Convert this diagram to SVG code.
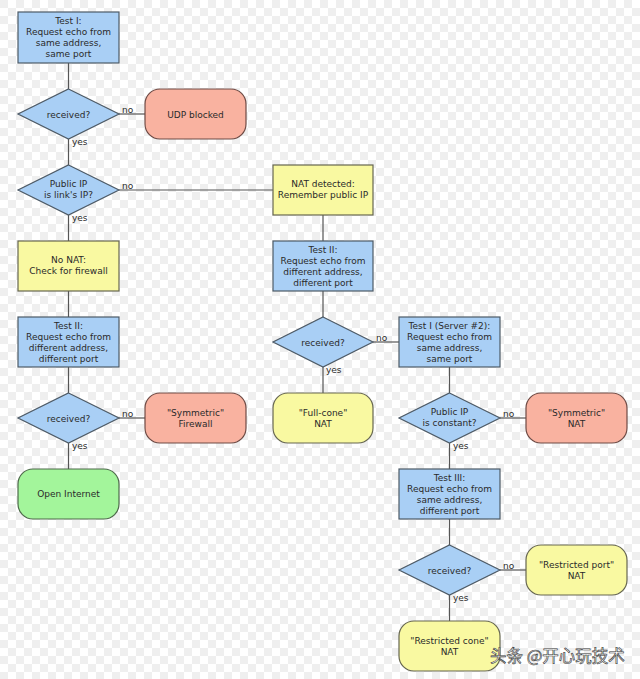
<svg xmlns="http://www.w3.org/2000/svg" width="640" height="679" viewBox="0 0 640 679">
<defs>
<pattern id="chk" width="16" height="16" patternUnits="userSpaceOnUse">
<rect width="16" height="16" fill="#ffffff"/>
<rect width="8" height="8" fill="#efefef"/>
<rect x="8" y="8" width="8" height="8" fill="#efefef"/>
</pattern>
<style>
.b{fill:#a9cff5;stroke:#4d5a66;stroke-width:1.2}
.y{fill:#f9f9a1;stroke:#666650;stroke-width:1.2}
.r{fill:#f9b2a0;stroke:#6e4a44;stroke-width:1.2}
.g{fill:#a3f59b;stroke:#4e6a4b;stroke-width:1.2}
text{font-family:"DejaVu Sans","Noto Sans",sans-serif;font-size:9px;fill:#2a2a2a;text-anchor:middle}
.lbl{text-anchor:start;font-size:9px}
#connectors line{stroke:#555;stroke-width:1.2}
.wm{font-family:"Noto Sans CJK SC",sans-serif;font-size:16.5px;fill:#ffffff;stroke:#333;stroke-width:0.6;text-anchor:start}
</style>
</defs>
<rect width="640" height="679" fill="url(#chk)"/>
<g id="connectors">
<line x1="68.5" y1="63" x2="68.5" y2="89"/>
<line x1="119" y1="114" x2="145" y2="114"/>
<line x1="68.5" y1="139" x2="68.5" y2="165"/>
<line x1="119" y1="190" x2="273" y2="190"/>
<line x1="68.5" y1="215" x2="68.5" y2="241"/>
<line x1="68.5" y1="291" x2="68.5" y2="317"/>
<line x1="68.5" y1="367" x2="68.5" y2="393"/>
<line x1="119" y1="418" x2="145" y2="418"/>
<line x1="68.5" y1="443" x2="68.5" y2="469"/>
<line x1="323" y1="215" x2="323" y2="241"/>
<line x1="323" y1="291" x2="323" y2="317"/>
<line x1="373" y1="342" x2="399" y2="342"/>
<line x1="323" y1="367" x2="323" y2="393"/>
<line x1="449.5" y1="367" x2="449.5" y2="393"/>
<line x1="500" y1="418" x2="526" y2="418"/>
<line x1="449.5" y1="443" x2="449.5" y2="469"/>
<line x1="449.5" y1="519" x2="449.5" y2="545"/>
<line x1="500" y1="570" x2="526" y2="570"/>
<line x1="449.5" y1="595" x2="449.5" y2="621"/>
<text class="lbl" x="122" y="113">no</text>
<text class="lbl" x="72" y="145">yes</text>
<text class="lbl" x="122" y="189">no</text>
<text class="lbl" x="72" y="221">yes</text>
<text class="lbl" x="122" y="417">no</text>
<text class="lbl" x="72" y="449">yes</text>
<text class="lbl" x="376" y="341">no</text>
<text class="lbl" x="326" y="373">yes</text>
<text class="lbl" x="503" y="417">no</text>
<text class="lbl" x="453" y="449">yes</text>
<text class="lbl" x="503" y="569">no</text>
<text class="lbl" x="453" y="601">yes</text>
</g>
<g id="test1">
<rect class="b" x="18" y="12" width="101" height="51"/>
<text x="68.5" y="24">Test I:</text>
<text x="68.5" y="35">Request echo from</text>
<text x="68.5" y="46">same address,</text>
<text x="68.5" y="57">same port</text>
</g>
<g id="recv1">
<polygon class="b" points="68.5,89 119,114 68.5,139 18,114"/>
<text x="68.5" y="117.5">received?</text>
</g>
<g id="udpblocked">
<rect class="r" x="145" y="89" width="101" height="50" rx="15"/>
<text x="195.5" y="117.5">UDP blocked</text>
</g>
<g id="publicip">
<polygon class="b" points="68.5,165 119,190 68.5,215 18,190"/>
<text x="68.5" y="187">Public IP</text>
<text x="68.5" y="198">is link's IP?</text>
</g>
<g id="natdetected">
<rect class="y" x="273" y="165" width="100" height="50"/>
<text x="323" y="187">NAT detected:</text>
<text x="323" y="198">Remember public IP</text>
</g>
<g id="nonat">
<rect class="y" x="18" y="241" width="101" height="50"/>
<text x="68.5" y="263">No NAT:</text>
<text x="68.5" y="274">Check for firewall</text>
</g>
<g id="test2left">
<rect class="b" x="18" y="317" width="101" height="50"/>
<text x="68.5" y="329">Test II:</text>
<text x="68.5" y="340">Request echo from</text>
<text x="68.5" y="351">different address,</text>
<text x="68.5" y="362">different port</text>
</g>
<g id="recv2">
<polygon class="b" points="68.5,393 119,418 68.5,443 18,418"/>
<text x="68.5" y="421.5">received?</text>
</g>
<g id="symfirewall">
<rect class="r" x="145" y="393" width="101" height="50" rx="15"/>
<text x="195.5" y="416">"Symmetric"</text>
<text x="195.5" y="427">Firewall</text>
</g>
<g id="openinternet">
<rect class="g" x="18" y="469" width="101" height="50" rx="15"/>
<text x="68.5" y="497">Open Internet</text>
</g>
<g id="test2right">
<rect class="b" x="273" y="241" width="100" height="50"/>
<text x="323" y="253">Test II:</text>
<text x="323" y="264">Request echo from</text>
<text x="323" y="275">different address,</text>
<text x="323" y="286">different port</text>
</g>
<g id="recv3">
<polygon class="b" points="323,317 373,342 323,367 273,342"/>
<text x="323" y="345.5">received?</text>
</g>
<g id="fullcone">
<rect class="y" x="273" y="393" width="100" height="50" rx="15"/>
<text x="323" y="416">"Full-cone"</text>
<text x="323" y="427">NAT</text>
</g>
<g id="test1server2">
<rect class="b" x="399" y="317" width="101" height="50"/>
<text x="449.5" y="329">Test I (Server #2):</text>
<text x="449.5" y="340">Request echo from</text>
<text x="449.5" y="351">same address,</text>
<text x="449.5" y="362">same port</text>
</g>
<g id="ipconstant">
<polygon class="b" points="449.5,393 500,418 449.5,443 399,418"/>
<text x="449.5" y="415">Public IP</text>
<text x="449.5" y="426">is constant?</text>
</g>
<g id="symnat">
<rect class="r" x="526" y="393" width="101" height="50" rx="15"/>
<text x="576.5" y="416">"Symmetric"</text>
<text x="576.5" y="427">NAT</text>
</g>
<g id="test3">
<rect class="b" x="399" y="469" width="101" height="50"/>
<text x="449.5" y="481">Test III:</text>
<text x="449.5" y="492">Request echo from</text>
<text x="449.5" y="503">same address,</text>
<text x="449.5" y="514">different port</text>
</g>
<g id="recv4">
<polygon class="b" points="449.5,545 500,570 449.5,595 399,570"/>
<text x="449.5" y="573.5">received?</text>
</g>
<g id="restrictedport">
<rect class="y" x="526" y="545" width="101" height="50" rx="15"/>
<text x="576.5" y="568">"Restricted port"</text>
<text x="576.5" y="579">NAT</text>
</g>
<g id="restrictedcone">
<rect class="y" x="399" y="621" width="101" height="50" rx="15"/>
<text x="449.5" y="644">"Restricted cone"</text>
<text x="449.5" y="655">NAT</text>
</g>
<text class="wm" x="490" y="662">头条 @开心玩技术</text>
</svg>
